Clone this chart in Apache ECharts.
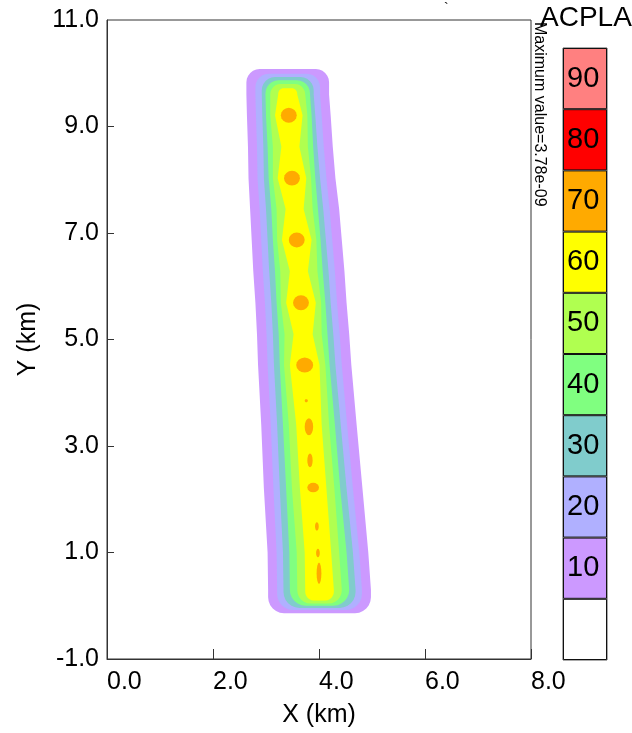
<!DOCTYPE html>
<html lang="en">
<head>
    <meta charset="UTF-8">
    <title>ACPLA contours</title>
    <script src="https://cdn.jsdelivr.net/npm/echarts@6.0.0/dist/echarts.min.js"></script>
    <style>
        html, body { margin: 0; padding: 0; background: #fff; }
        #main { width: 632px; height: 733px; }
    </style>
</head>
<body>
<div id="main"></div>

<script>
    // centreline of the road, read from the orange spots (km)
    var centerY = [0.3, 1.0, 2.2, 3.4, 4.52, 5.1, 5.69, 6.28, 6.87, 7.45, 8.03, 8.62, 9.21, 9.6];
    var centerX = [4.01, 3.98, 3.89, 3.81, 3.73, 3.70, 3.66, 3.62, 3.58, 3.54, 3.49, 3.46, 3.43, 3.41];

    // contour bands, lower bound of each band
    var bandLevels = [10, 20, 30, 40, 50, 60];
    var bandColors = ['#CC99FF', '#B0B0FF', '#80CCCC', '#80FF80', '#B0FF50', '#FFFF00'];
    // half width of each band at every centreline row (km)
    var bandHalfWidth = [
        [0.97, 0.95, 0.93, 0.90, 0.88, 0.87, 0.86, 0.86, 0.85, 0.84, 0.82, 0.80, 0.79, 0.78],
        [0.80, 0.78, 0.75, 0.72, 0.70, 0.69, 0.68, 0.68, 0.67, 0.66, 0.65, 0.63, 0.62, 0.61],
        [0.68, 0.66, 0.63, 0.60, 0.58, 0.57, 0.56, 0.56, 0.55, 0.54, 0.53, 0.51, 0.50, 0.49],
        [0.56, 0.54, 0.51, 0.49, 0.47, 0.46, 0.46, 0.45, 0.45, 0.44, 0.44, 0.43, 0.43, 0.42],
        [0.42, 0.40, 0.40, 0.38, 0.39, 0.35, 0.38, 0.35, 0.37, 0.34, 0.36, 0.33, 0.35, 0.33],
        [0.27, 0.25, 0.25, 0.24, 0.28, 0.18, 0.28, 0.17, 0.28, 0.17, 0.27, 0.17, 0.26, 0.18]
    ];
    var bandBottom = [-0.14, -0.08, -0.04, 0.0, 0.04, 0.10];
    var bandTop = [10.08, 9.99, 9.93, 9.87, 9.80, 9.72];

    // 70 dB spots (orange)
    var spotX = [3.43, 3.49, 3.58, 3.66, 3.73, 3.81, 3.83, 3.89, 3.96, 3.98, 4.00, 3.76];
    var spotY = [9.21, 8.03, 6.87, 5.69, 4.52, 3.36, 2.73, 2.22, 1.49, 0.99, 0.61, 3.85];
    var spotRx = [0.15, 0.15, 0.15, 0.15, 0.16, 0.08, 0.05, 0.11, 0.035, 0.035, 0.045, 0.03];
    var spotRy = [0.14, 0.14, 0.14, 0.14, 0.14, 0.16, 0.13, 0.09, 0.08, 0.08, 0.20, 0.03];

    // colour scale on the right
    var scaleLabels = ['', '10', '20', '30', '40', '50', '60', '70', '80', '90'];
    var scaleColors = ['#FFFFFF', '#CC99FF', '#B0B0FF', '#80CCCC', '#80FF80', '#B0FF50', '#FFFF00', '#FFAA00', '#FF0000', '#FF8080'];

    var FONT = 'Liberation Sans, Arial, sans-serif';

    function capArc(pts, cx, cy, rx, ry, a0, a1) {
        for (var k = 0; k <= 6; k++) {
            var a = a0 + (a1 - a0) * k / 6;
            pts.push([cx + rx * Math.cos(a), cy + ry * Math.sin(a)]);
        }
    }

    function bandPolygon(b) {
        var hw = bandHalfWidth[b];
        var n = centerY.length;
        var pts = [];
        // left edge going up
        for (var i = 0; i < n; i++) pts.push([centerX[i] - hw[i], centerY[i]]);
        // top cap
        var yt = bandTop[b], ct = centerX[n - 1], ht = hw[n - 1];
        var rt = Math.min(0.25, ht * 0.6, yt - centerY[n - 1]);
        capArc(pts, ct - ht + rt, yt - rt, rt, rt, Math.PI, Math.PI / 2);
        capArc(pts, ct + ht - rt, yt - rt, rt, rt, Math.PI / 2, 0);
        // right edge going down
        for (var j = n - 1; j >= 0; j--) pts.push([centerX[j] + hw[j], centerY[j]]);
        // bottom cap
        var yb = bandBottom[b], cb = centerX[0], hb = hw[0];
        var rb = Math.min(0.3, hb * 0.6, centerY[0] - yb);
        capArc(pts, cb + hb - rb, yb + rb, rb, rb, 0, -Math.PI / 2);
        capArc(pts, cb - hb + rb, yb + rb, rb, rb, -Math.PI / 2, -Math.PI);
        return pts;
    }

    var myChart = echarts.init(document.getElementById('main'), null, {renderer: 'canvas'});

    var option = {
        backgroundColor: '#fff',
        animation: false,
        textStyle: {fontFamily: FONT},
        grid: [
            {left: 107, right: 101, top: 20, bottom: 72, show: true, borderColor: '#333', borderWidth: 1},
            {left: 563, width: 44, top: 48, height: 612, show: true, borderColor: '#555', borderWidth: 1}
        ],
        xAxis: [
            {
                type: 'value', gridIndex: 0, min: 0, max: 8, interval: 2,
                name: 'X (km)', nameLocation: 'middle', nameGap: 44,
                nameTextStyle: {fontSize: 25, color: '#000', fontFamily: FONT},
                axisLine: {onZero: false, lineStyle: {color: '#333'}},
                axisTick: {inside: true, length: 10, lineStyle: {color: '#333'}},
                axisLabel: {
                    fontSize: 25, color: '#000', align: 'left', margin: 11, fontFamily: FONT,
                    formatter: function (v) { return v.toFixed(1); }
                },
                splitLine: {show: false}
            },
            {type: 'value', gridIndex: 1, min: 0, max: 1, show: false}
        ],
        yAxis: [
            {
                type: 'value', gridIndex: 0, min: -1, max: 11,
                name: 'Y (km)', nameLocation: 'middle', nameGap: 66,
                nameTextStyle: {fontSize: 25, color: '#000', fontFamily: FONT},
                axisLine: {onZero: false, lineStyle: {color: '#333'}},
                axisTick: {inside: true, length: 7, lineStyle: {color: '#333'},
                    customValues: [1, 3, 5, 7, 9]},
                axisLabel: {
                    fontSize: 25, color: '#000', margin: 8, fontFamily: FONT,
                    customValues: [-1, 1, 3, 5, 7, 9, 11],
                    formatter: function (v) { return v.toFixed(1); }
                },
                splitLine: {show: false}
            },
            {type: 'category', gridIndex: 1, data: scaleLabels, show: false}
        ],
        series: [
            {
                type: 'custom',
                xAxisIndex: 0, yAxisIndex: 0,
                clip: true,
                data: bandLevels.map(function (v, i) { return [centerX[0], centerY[0], v]; }),
                renderItem: function (params, api) {
                    var b = params.dataIndex;
                    var pts = bandPolygon(b).map(function (p) { return api.coord(p); });
                    return {type: 'polygon', shape: {points: pts}, style: {fill: bandColors[b], stroke: null}};
                }
            },
            {
                type: 'custom',
                xAxisIndex: 0, yAxisIndex: 0,
                clip: true,
                data: spotX.map(function (x, i) { return [x, spotY[i], spotRx[i], spotRy[i]]; }),
                renderItem: function (params, api) {
                    var x = api.value(0), y = api.value(1), rx = api.value(2), ry = api.value(3);
                    var pts = [];
                    for (var k = 0; k < 16; k++) {
                        var a = k / 16 * Math.PI * 2;
                        pts.push(api.coord([x + rx * Math.cos(a), y + ry * Math.sin(a)]));
                    }
                    return {type: 'polygon', shape: {points: pts}, style: {fill: '#FFAA00', stroke: null}};
                }
            },
            {
                type: 'bar',
                xAxisIndex: 1, yAxisIndex: 1,
                barWidth: '100%',
                data: scaleColors.map(function (c) {
                    return {value: 1, itemStyle: {color: c, borderColor: '#111', borderWidth: 1}};
                }),
                label: {
                    show: true, position: 'insideLeft', distance: 4,
                    fontSize: 29, color: '#000', fontFamily: FONT,
                    formatter: function (p) { return scaleLabels[p.dataIndex]; }
                }
            }
        ],
        graphic: [
            {type: 'text', left: 540, top: 4, style: {text: 'ACPLA', fontSize: 28, fill: '#000', font: '28px ' + FONT}},
            {type: 'text', x: 539, y: 22, rotation: -Math.PI / 2,
                style: {text: 'Maximum value=3.78e-09', fill: '#000', font: '16px ' + FONT, align: 'left', verticalAlign: 'middle'}},
            {type: 'text', x: 444, y: 2, style: {text: '`', fill: '#000', font: '14px ' + FONT}}
        ]
    };

    myChart.setOption(option);
</script>

</body>
</html>
